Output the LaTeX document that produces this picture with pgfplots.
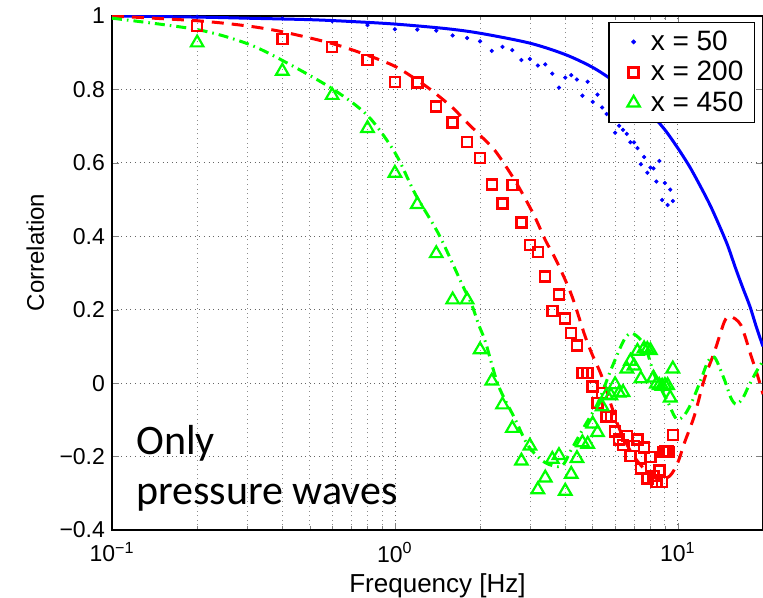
\documentclass[border=0pt]{standalone}
\usepackage{pgfplots}
\pgfplotsset{compat=1.18}
\usepackage{fontspec}
\setmainfont{Liberation Sans}
\newfontfamily\calibri{Carlito}
\definecolor{mblue}{RGB}{0,0,255}
\definecolor{mred}{RGB}{255,0,0}
\definecolor{mgreen}{RGB}{0,255,0}
\pgfplotsset{mylegimg/.style={legend image code/.code={\draw[##1] plot coordinates {(0.3cm,0cm)}; \path (0cm,0cm) (0.45cm,0cm);}}}
\begin{document}
\begin{tikzpicture}
\begin{axis}[name=ax,
  xmode=log, scale only axis, width=325.5pt, height=257pt,
  xmin=0.1, xmax=20, ymin=-0.4, ymax=1,
  ytick={-0.4,-0.2,0,0.2,0.4,0.6,0.8,1},
  yticklabels={−0.4,−0.2,0,0.2,0.4,0.6,0.8,1},
  xtick={0.1,1,10},
  xticklabels={10\textsuperscript{−1},10\textsuperscript{0},10\textsuperscript{1}},
  tick label style={font=\fontsize{11.5}{13}\selectfont},
  xticklabel style={yshift=-2.5pt},
  minor y tick num=0,
  every axis y label/.style={at={(axis description cs:-0.118,0.54)}, rotate=90, anchor=center},
  every axis x label/.style={at={(axis description cs:0.5,-0.0837)}, anchor=north, inner sep=0pt},
  xlabel={Frequency [Hz]}, ylabel={Correlation},
  xlabel style={font=\fontsize{13}{15}\selectfont},
  ylabel style={font=\fontsize{12}{14}\selectfont},
  tick align=inside, major tick length=3.3pt, minor tick length=1.8pt,
  xmajorgrids, xminorgrids, ymajorgrids,
  grid style={dash pattern=on 0.5pt off 1.8pt, black!60, line width=0.4pt},
  minor grid style={dash pattern=on 0.5pt off 1.8pt, black!45, line width=0.4pt},
  axis line style={line width=0.6pt},
  legend style={at={(axis description cs:1,1)}, anchor=north east, xshift=-4pt, yshift=-3pt,
    font=\fontsize{14}{16}\selectfont, draw=black, line width=0.6pt, fill=white,
    inner xsep=3.5pt, inner ysep=2pt, column sep=2pt},
  legend cell align=left,
]
% theory curves
\addplot[mblue, line width=1.5pt, smooth, forget plot] coordinates {
(0.1,1.0) (0.2,0.997) (0.3,0.994) (0.5,0.990) (0.7,0.985) (1.0,0.978) (1.5,0.966)
(2.0,0.953) (3.0,0.926) (4.0,0.895) (5.0,0.860) (6.0,0.820) (7.0,0.777) (8.0,0.735)
(9.0,0.690) (10,0.640) (11,0.590) (12,0.537) (13,0.485) (14,0.430) (15,0.375)
(16,0.313) (17,0.258) (18,0.208) (19,0.150) (20,0.100)};
\addplot[mred, line width=1.5pt, smooth, dash pattern=on 6pt off 4pt, forget plot] coordinates {
(0.1,1.0) (0.2,0.987) (0.3,0.973) (0.4,0.957) (0.6,0.925) (0.8,0.893) (1.0,0.863)
(1.2,0.825) (1.35,0.797) (1.6,0.750) (1.77,0.715) (2.0,0.675) (2.26,0.633) (2.66,0.551)
(3.09,0.460) (3.4,0.39) (3.73,0.332) (4.21,0.240) (4.69,0.130) (5.0,0.075) (5.37,0.021)
(5.82,-0.061) (6.22,-0.125) (6.85,-0.189) (7.63,-0.235) (8.51,-0.262) (9.36,-0.253)
(10.0,-0.216) (10.56,-0.162) (11.45,-0.088) (12.42,0.012) (13.47,0.085) (14.6,0.167)
(15.3,0.182) (16.71,0.158) (18.12,0.076) (19.13,0.021) (20,-0.03)};
\addplot[mgreen, line width=1.5pt, smooth, dash pattern=on 5pt off 2.5pt on 0.8pt off 2.5pt, forget plot] coordinates {
(0.1,0.994) (0.2,0.963) (0.3,0.925) (0.4,0.879) (0.6,0.802) (0.8,0.729) (1.0,0.628)
(1.18,0.515) (1.43,0.405) (1.73,0.268) (1.87,0.213) (1.98,0.158) (2.09,0.112)
(2.32,-0.006) (2.66,-0.098) (2.96,-0.171) (3.39,-0.216) (3.88,-0.226) (4.21,-0.180)
(4.69,-0.116) (5.23,-0.052) (5.82,0.039) (6.49,0.121) (6.94,0.135) (7.63,0.103)
(8.28,0.021) (9.22,-0.052) (9.9,-0.098) (10.6,-0.085) (11.3,-0.045) (12.1,0.012)
(12.8,0.060) (13.5,0.070) (14.6,0.010) (15.4,-0.040) (16.1,-0.058) (17.0,-0.040)
(17.6,-0.016) (18.9,0.030) (20,0.06)};
% measured
\addplot[only marks, mark=*, mark size=0.85pt, color=mblue, mylegimg] coordinates {
(0.2,0.998) (0.4,0.993) (0.6,0.986) (0.8,0.975) (1.0,0.964) (1.2,0.963) (1.4,0.960)
(1.6,0.947) (1.8,0.940) (2.0,0.931) (2.2,0.905) (2.4,0.916) (2.6,0.907) (2.8,0.880)
(3.0,0.883) (3.2,0.865) (3.4,0.868) (3.6,0.843) (3.8,0.805) (4.0,0.832) (4.2,0.839)
(4.4,0.827) (4.6,0.783) (4.8,0.821) (5.0,0.766) (5.2,0.786) (5.4,0.751) (5.6,0.733)
(5.8,0.715) (6.0,0.682) (6.2,0.701) (6.4,0.690) (6.6,0.679) (6.8,0.656) (7.0,0.656)
(7.2,0.640) (7.4,0.596) (7.6,0.616) (7.8,0.573) (8.0,0.587) (8.2,0.585) (8.4,0.549)
(8.6,0.605) (8.8,0.499) (9.0,0.545) (9.2,0.485) (9.4,0.527) (9.6,0.496)};
\addlegendentry{x = 50}
\addplot[only marks, mark=square, mark size=2.5pt, color=mred, mark options={line width=1.2pt}, mylegimg] coordinates {
(0.2,0.973) (0.4,0.937) (0.6,0.915) (0.8,0.880) (1.0,0.821) (1.2,0.819) (1.4,0.753)
(1.6,0.710) (1.8,0.657) (2.0,0.614) (2.2,0.541) (2.4,0.489) (2.6,0.540) (2.8,0.438)
(3.0,0.376) (3.2,0.357) (3.4,0.290) (3.6,0.197) (3.8,0.241) (4.0,0.176) (4.2,0.137)
(4.4,0.102) (4.6,0.027) (4.8,0.027) (5.0,-0.009) (5.2,-0.054) (5.4,-0.027)
(5.6,-0.091) (5.8,-0.091) (6.0,-0.132) (6.2,-0.153) (6.4,-0.169) (6.6,-0.144)
(6.8,-0.198) (7.0,-0.171) (7.2,-0.153) (7.4,-0.233) (7.6,-0.175) (7.8,-0.260)
(8.0,-0.201) (8.2,-0.253) (8.4,-0.269) (8.6,-0.238) (8.8,-0.269) (8.9,-0.187)
(9.0,-0.185) (9.1,-0.188) (9.2,-0.186) (9.3,-0.187) (9.6,-0.141)};
\addlegendentry{x = 200}
\addplot[only marks, mark=triangle, mark size=3.6pt, color=mgreen, mark options={line width=1.1pt}, mylegimg] coordinates {
(0.2,0.927) (0.4,0.850) (0.6,0.784) (0.8,0.694) (1.0,0.572) (1.2,0.487) (1.4,0.353)
(1.6,0.227) (1.8,0.227) (2.0,0.091) (2.2,0.006) (2.4,-0.059) (2.6,-0.123) (2.8,-0.212)
(3.0,-0.171) (3.2,-0.290) (3.4,-0.258) (3.6,-0.207) (3.8,-0.197) (4.0,-0.294)
(4.2,-0.248) (4.4,-0.205) (4.6,-0.162) (4.8,-0.166) (5.0,-0.111) (5.2,-0.134)
(5.4,-0.064) (5.6,-0.033) (5.8,-0.034) (6.0,-0.004) (6.2,-0.027) (6.4,-0.025)
(6.6,0.039) (6.8,0.060) (7.0,0.047) (7.2,0.087) (7.4,0.012) (7.6,0.094) (7.8,0.092)
(8.0,0.089) (8.2,0.014) (8.4,-0.002) (8.6,-0.006) (8.8,-0.008) (9.0,-0.006)
(9.2,-0.006) (9.4,-0.040) (9.6,0.039)};
\addlegendentry{x = 450}
\node[anchor=base west, inner sep=0pt, font=\calibri\fontsize{21}{24}\selectfont] at (axis cs:0.1215,-0.195) {Only};
\node[anchor=base west, inner sep=0pt, font=\calibri\fontsize{21}{24}\selectfont] at (axis cs:0.1215,-0.3315) {pressure waves};
\end{axis}
\pgfresetboundingbox
\path[use as bounding box] ([shift={(-56pt,-34pt)}]ax.south west) rectangle ([shift={(0pt,8pt)}]ax.north east);
\end{tikzpicture}
\end{document}
